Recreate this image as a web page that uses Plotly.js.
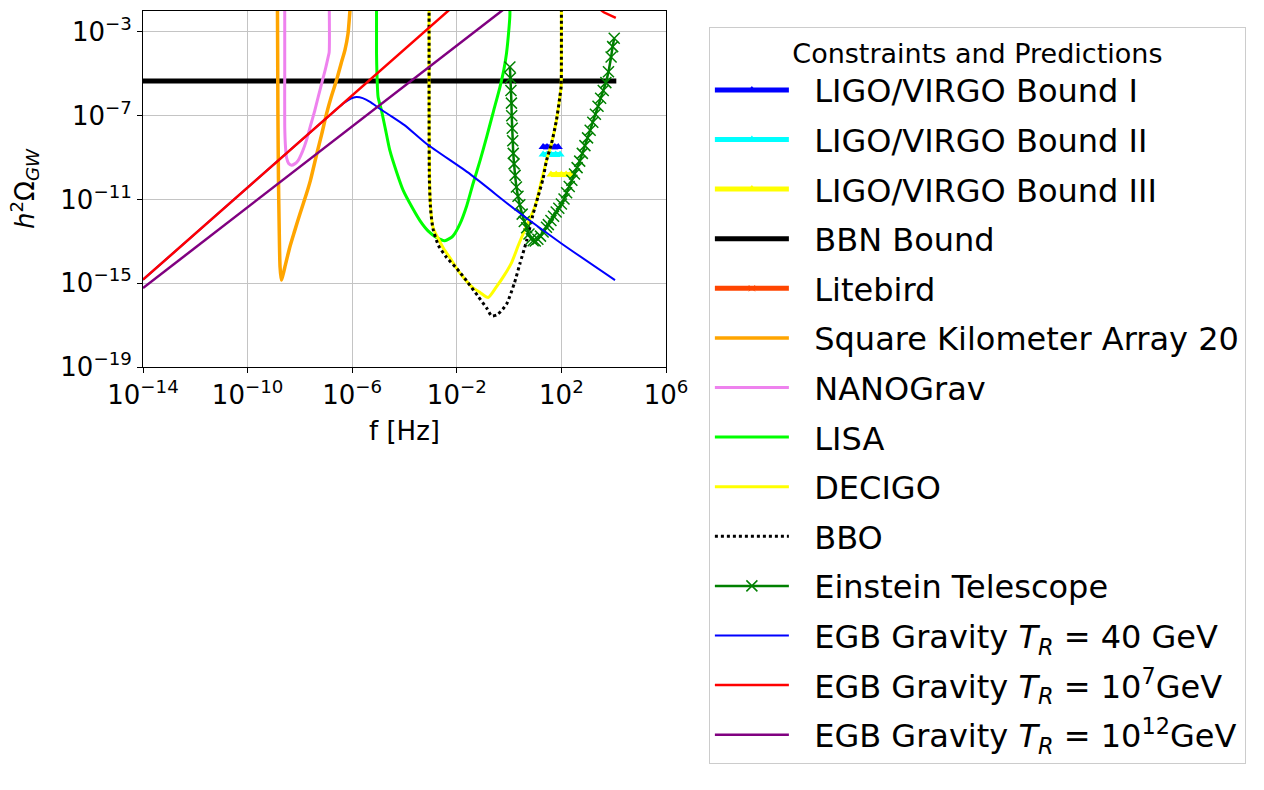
<!DOCTYPE html>
<html>
<head>
<meta charset="utf-8">
<script src="https://cdn.plot.ly/plotly-3.0.1.min.js"></script>
<style>html,body{margin:0;padding:0;background:#fff;}#chart{width:1264px;height:790px;}</style>
</head>
<body>
<div id="chart"></div>
<script>
// All values are log10 of f [Hz] and log10 of h^2 Omega_GW.
const ligo1LogF = [1.30, 1.45, 1.60, 1.75, 1.88];
const ligo1LogOmega = [-8.49, -8.49, -8.49, -8.49, -8.49];
const ligo2LogF = [1.30, 1.45, 1.60, 1.78, 1.95];
const ligo2LogOmega = [-8.85, -8.85, -8.85, -8.85, -8.85];
const ligo3LogF = [1.60, 1.80, 2.00, 2.18, 2.35];
const ligo3LogOmega = [-9.81, -9.81, -9.81, -9.81, -9.81];

const bbnLogF = [-14, -10, -6, -2, 2, 4.1];
const bbnLogOmega = [-5.34, -5.34, -5.34, -5.34, -5.34, -5.34];

const litebirdLogF = [-17.7, -17.3, -17.0, -16.6, -16.2];
const litebirdLogOmega = [-13.0, -14.6, -15.0, -14.7, -13.8];

const skaLogF = [-8.86, -8.85, -8.84, -8.82, -8.79, -8.76, -8.71, -8.55, -8.39, -8.20, -8.00, -7.75, -7.60, -7.37, -7.17, -6.98, -6.80, -6.60, -6.40, -6.28, -6.16, -6.09, -6.05];
const skaLogOmega = [-1.5, -4.0, -7.0, -10.0, -12.5, -14.2, -14.85, -14.1, -13.29, -12.5, -11.69, -10.73, -10.1, -8.9, -7.9, -6.9, -6.1, -5.31, -4.4, -3.88, -3.08, -2.04, -1.5];

const nanogravLogF = [-8.58, -8.58, -8.58, -8.55, -8.51, -8.43, -8.32, -8.20, -8.07, -7.90, -7.75, -7.60, -7.43, -7.30, -7.17, -7.03, -6.92, -6.88, -6.88];
const nanogravLogOmega = [-1.5, -5.0, -7.5, -8.5, -9.0, -9.28, -9.36, -9.30, -9.14, -8.70, -8.18, -7.50, -6.75, -6.10, -5.47, -4.80, -4.20, -3.96, -1.5];

const lisaLogF = [-5.07, -5.07, -5.05, -5.01, -4.88, -4.72, -4.56, -4.30, -4.05, -3.70, -3.41, -3.10, -2.78, -2.46, -2.15, -1.88, -1.62, -1.38, -1.10, -0.86, -0.60, -0.35, -0.20, -0.10, 0.00, 0.03, 0.03];
const lisaLogOmega = [-1.5, -4.0, -5.15, -6.11, -6.75, -7.70, -8.66, -9.70, -10.57, -11.40, -12.01, -12.50, -12.81, -12.97, -12.75, -12.17, -11.30, -10.25, -9.10, -8.02, -6.80, -5.63, -4.80, -4.03, -2.76, -2.20, -1.5];

const decigoLogF = [-3.06, -3.06, -3.05, -3.02, -2.91, -2.70, -2.50, -2.20, -2.00, -1.70, -1.40, -1.10, -0.80, -0.50, -0.20, 0.10, 0.35, 0.55, 0.80, 1.00, 1.20, 1.43, 1.62, 1.81, 1.94, 1.99, 2.00, 2.00];
const decigoLogOmega = [-1.5, -6.0, -9.0, -11.0, -12.33, -12.90, -13.35, -13.90, -14.30, -14.80, -15.20, -15.45, -15.68, -15.20, -14.65, -14.00, -13.20, -12.60, -11.90, -11.30, -10.30, -9.14, -8.34, -7.22, -6.11, -5.60, -4.0, -1.5];

const bboLogF = [-3.06, -3.06, -3.05, -3.00, -2.91, -2.70, -2.39, -2.00, -1.63, -1.20, -0.85, -0.67, -0.45, -0.10, 0.20, 0.41, 0.67, 0.92, 1.10, 1.30, 1.43, 1.62, 1.81, 1.94, 1.99, 2.00, 2.00];
const bboLogOmega = [-1.5, -6.0, -10.0, -11.5, -12.4, -13.2, -13.77, -14.3, -14.88, -15.6, -16.2, -16.56, -16.5, -16.0, -15.0, -14.08, -12.97, -11.69, -10.9, -10.0, -9.14, -8.34, -7.22, -6.11, -5.6, -4.0, -1.5];

const etLogF = [0.03, 0.05, 0.07, 0.09, 0.10, 0.12, 0.14, 0.16, 0.19, 0.23, 0.28, 0.34, 0.41, 0.50, 0.58, 0.67, 0.76, 0.85, 0.92,
  1.00, 1.10, 1.20, 1.30, 1.43, 1.50, 1.60, 1.70, 1.80, 1.90, 2.00, 2.10, 2.20, 2.30, 2.40, 2.50, 2.60, 2.70, 2.80, 2.90,
  3.00, 3.10, 3.20, 3.30, 3.40, 3.50, 3.60, 3.70, 3.80, 3.90, 3.96, 4.02];
const etLogOmega = [-4.67, -5.2, -5.8, -6.4, -7.0, -7.6, -8.2, -8.8, -9.3, -9.85, -10.4, -10.85, -11.25, -11.7, -12.05, -12.35, -12.65, -12.88, -12.97,
  -12.98, -12.9, -12.75, -12.55, -12.33, -12.2, -12.0, -11.8, -11.6, -11.42, -11.22, -10.98, -10.68, -10.38, -10.08, -9.78, -9.48, -9.17, -8.8, -8.43,
  -8.06, -7.69, -7.31, -6.93, -6.55, -6.17, -5.8, -5.42, -4.9, -4.2, -3.7, -3.3];

const egb40LogF = [-14, -10, -6.6, -6.3, -6.05, -5.84, -5.6, -5.3, -5.0, -4.5, -4.0, -3.16, -1.5, 0.28, 2.0, 4.05];
const egb40LogOmega = [-14.83, -10.43, -6.69, -6.38, -6.18, -6.11, -6.16, -6.35, -6.62, -7.03, -7.45, -8.34, -9.78, -11.53, -13.1, -14.85];

const egb7LogF = [-14, -10, -6, -2, 1.5, 3.0, 3.62, 4.08];
const egb7LogOmega = [-14.83, -10.43, -6.03, -1.63, 0.8, -1.45, -2.06, -2.33];

const egb12LogF = [-14, -10, -6, -2, 0.5];
const egb12LogOmega = [-15.23, -11.37, -7.51, -3.65, -1.24];

const seriesNames = [
  'LIGO/VIRGO Bound I', 'LIGO/VIRGO Bound II', 'LIGO/VIRGO Bound III', 'BBN Bound', 'Litebird',
  'Square Kilometer Array 20', 'NANOGrav', 'LISA', 'DECIGO', 'BBO', 'Einstein Telescope',
  'EGB Gravity <i>T</i><sub><i>R</i></sub> = 40 GeV',
  'EGB Gravity <i>T</i><sub><i>R</i></sub> = 10<sup>7</sup>GeV',
  'EGB Gravity <i>T</i><sub><i>R</i></sub> = 10<sup>12</sup>GeV'
];

const xTickVals = [1e-14, 1e-10, 1e-6, 1e-2, 1e2, 1e6];
const xTickText = ['10<sup>−14</sup>', '10<sup>−10</sup>', '10<sup>−6</sup>', '10<sup>−2</sup>', '10<sup>2</sup>', '10<sup>6</sup>'];
const yTickVals = [1e-19, 1e-15, 1e-11, 1e-7, 1e-3];
const yTickText = ['10<sup>−19</sup>', '10<sup>−15</sup>', '10<sup>−11</sup>', '10<sup>−7</sup>', '10<sup>−3</sup>'];

const pow10 = a => a.map(v => Math.pow(10, v));
const PAD = '\u00A0\u00A0';

function tr(i, lf, lo, line, marker, mode) {
  return {
    type: 'scatter', name: PAD + seriesNames[i], legendgroup: 'g' + i,
    x: pow10(lf), y: pow10(lo),
    mode: mode, line: line, marker: marker || {size: 1}
  };
}
const sp = (o) => Object.assign({shape: 'spline', smoothing: 0.6}, o);

const traces = [
  tr(0, ligo1LogF, ligo1LogOmega, {color: '#0000ff', width: 5}, {symbol: 'triangle-up', size: 8, color: '#0000ff'}, 'lines+markers'),
  tr(1, ligo2LogF, ligo2LogOmega, {color: '#00ffff', width: 5}, {symbol: 'triangle-up', size: 8, color: '#00ffff'}, 'lines+markers'),
  tr(2, ligo3LogF, ligo3LogOmega, {color: '#ffff00', width: 5}, {symbol: 'triangle-up', size: 8, color: '#ffff00'}, 'lines+markers'),
  tr(3, bbnLogF, bbnLogOmega, {color: '#000000', width: 5}, null, 'lines'),
  tr(4, litebirdLogF, litebirdLogOmega, {color: '#ff4500', width: 5}, {symbol: 'x-thin-open', size: 6, color: '#ff4500', line: {color: '#ff4500', width: 1}}, 'lines+markers'),
  tr(5, skaLogF, skaLogOmega, sp({color: '#ffa500', width: 3.5}), null, 'lines'),
  tr(6, nanogravLogF, nanogravLogOmega, sp({color: '#ee82ee', width: 3}), null, 'lines'),
  tr(7, lisaLogF, lisaLogOmega, sp({color: '#00ff00', width: 3}), null, 'lines'),
  tr(8, decigoLogF, decigoLogOmega, sp({color: '#ffff00', width: 3}), null, 'lines'),
  tr(9, bboLogF, bboLogOmega, sp({color: '#000000', width: 3, dash: 'dot'}), null, 'lines'),
  tr(10, etLogF, etLogOmega, sp({color: '#008000', width: 2.5}), {symbol: 'x-thin-open', size: 11, color: '#008000', line: {color: '#008000', width: 1.5}}, 'lines+markers'),
  tr(11, egb40LogF, egb40LogOmega, sp({color: '#0000ff', width: 2}), null, 'lines'),
  tr(12, egb7LogF, egb7LogOmega, {color: '#ff0000', width: 2.5}, null, 'lines'),
  tr(13, egb12LogF, egb12LogOmega, {color: '#800080', width: 2.5}, null, 'lines')
];

const axisCommon = {
  type: 'log',
  showline: true, mirror: true, linecolor: '#000000', linewidth: 1,
  ticks: 'outside', ticklen: 5, tickwidth: 1, tickcolor: '#000000',
  showgrid: true, gridcolor: '#c4c4c4', gridwidth: 1,
  zeroline: false, automargin: false,
  tickfont: {family: 'DejaVu Sans', size: 26, color: '#000000'},
  tickmode: 'array'
};

const layout = {
  width: 1264, height: 790,
  margin: {l: 143, r: 598, t: 11, b: 423, pad: 0, autoexpand: false},
  paper_bgcolor: '#ffffff', plot_bgcolor: '#ffffff',
  font: {family: 'DejaVu Sans', color: '#000000'},
  showlegend: true,
  xaxis: Object.assign({}, axisCommon, {
    range: [-14, 6], tickvals: xTickVals, ticktext: xTickText,
    title: {text: 'f [Hz]', font: {family: 'DejaVu Sans', size: 26, color: '#000000'}, standoff: 12}
  }),
  yaxis: Object.assign({}, axisCommon, {
    range: [-19, -2.0], tickvals: yTickVals, ticktext: yTickText,
    title: {text: '<i>h</i><sup>2</sup>Ω<sub><i>GW</i></sub>', font: {family: 'DejaVu Sans', size: 26, color: '#000000'}, standoff: 18}
  }),
  legend: {
    x: 1.082, y: 1 - 26.5 / 790, xanchor: 'left', yanchor: 'top', yref: 'container',
    maxheight: 2000,
    bgcolor: '#ffffff', bordercolor: '#cccccc', borderwidth: 1,
    font: {family: 'DejaVu Sans', size: 32, color: '#000000'},
    title: {text: 'Constraints and Predictions', side: 'top center', font: {family: 'DejaVu Sans', size: 27, color: '#000000'}},
    traceorder: 'grouped', tracegroupgap: 5, itemwidth: 74
  }
};

Plotly.newPlot('chart', traces, layout, {displayModeBar: false, staticPlot: true});
</script>
</body>
</html>
